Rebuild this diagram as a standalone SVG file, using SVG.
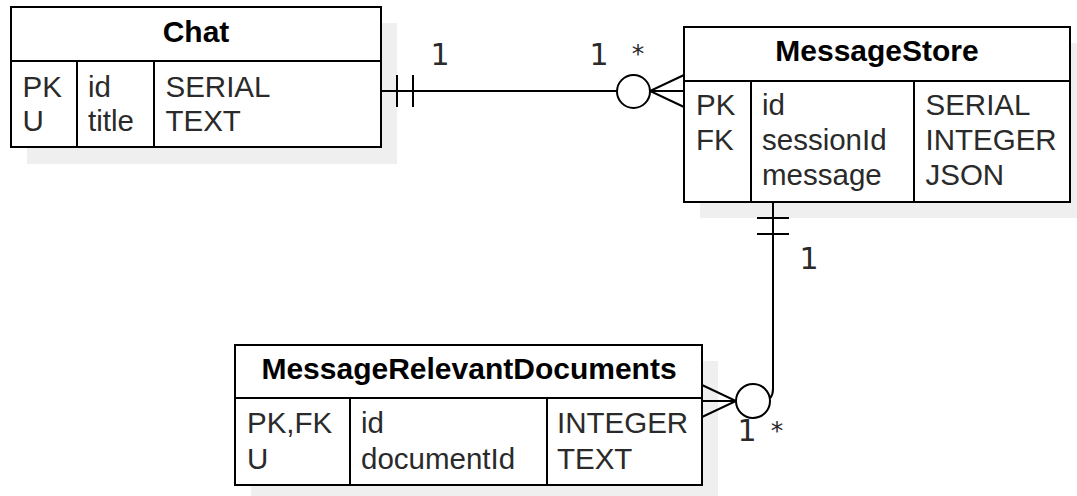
<svg xmlns="http://www.w3.org/2000/svg" width="1077" height="496" viewBox="0 0 1077 496">
<style>
.shadow{fill:#efefef;stroke:none}
.box{fill:#fff;stroke:#000;stroke-width:2}
.ln{fill:none;stroke:#000;stroke-width:2}
.hdr{font-family:"Liberation Sans",Arial,sans-serif;font-size:30px;font-weight:bold;fill:#000;text-anchor:middle}
.row{font-family:"Liberation Sans",Arial,sans-serif;font-size:29.5px;fill:#2a2a2a}
.lbl{font-family:"DejaVu Sans",sans-serif;font-size:30px;fill:#2a2a2a;text-anchor:middle}
.ast{font-family:"DejaVu Sans",sans-serif;font-size:25px;fill:#2a2a2a;text-anchor:middle}
.circ{fill:#fff;stroke:#000;stroke-width:2}
</style>
<rect width="1077" height="496" fill="#fff"/>
<g id="node-chat">
<rect class="shadow" x="27" y="23" width="370" height="141"/>
<rect class="box" x="11" y="7" width="370" height="140"/>
<path class="ln" d="M11,61 H381 M77,61 V147 M154,61 V147"/>
<text class="hdr" x="196" y="42">Chat</text>
<text class="row" x="22.5" y="97">PK</text>
<text class="row" x="22.5" y="131">U</text>
<text class="row" x="88" y="97">id</text>
<text class="row" x="88" y="131">title</text>
<text class="row" x="165.5" y="97">SERIAL</text>
<text class="row" x="165.5" y="131">TEXT</text>
</g>
<g id="node-messagestore">
<rect class="shadow" x="700" y="43" width="386" height="175"/>
<rect class="box" x="684" y="27" width="386" height="175"/>
<path class="ln" d="M684,81 H1070 M751,81 V202 M914,81 V202"/>
<text class="hdr" x="877" y="61">MessageStore</text>
<text class="row" x="696" y="115">PK</text>
<text class="row" x="696" y="150">FK</text>
<text class="row" x="762" y="115">id</text>
<text class="row" x="762" y="150">sessionId</text>
<text class="row" x="762" y="185">message</text>
<text class="row" x="925.5" y="115">SERIAL</text>
<text class="row" x="925.5" y="150">INTEGER</text>
<text class="row" x="925.5" y="185">JSON</text>
</g>
<g id="node-messagerelevantdocuments">
<rect class="shadow" x="251" y="361" width="467" height="140"/>
<rect class="box" x="235" y="345" width="467" height="140"/>
<path class="ln" d="M235,398 H702 M350,398 V485 M547,398 V485"/>
<text class="hdr" x="469" y="379">MessageRelevantDocuments</text>
<text class="row" x="247" y="433">PK,FK</text>
<text class="row" x="247" y="469">U</text>
<text class="row" x="361" y="433">id</text>
<text class="row" x="361" y="469">documentId</text>
<text class="row" x="557" y="433">INTEGER</text>
<text class="row" x="557" y="469">TEXT</text>
</g>
<g id="connectors">
<g id="edge-chat-messagestore">
<path class="ln" d="M381,91 H684"/>
<path class="ln" d="M397,75 V107 M413,75 V107"/>
<path class="ln" d="M684,75 L650,91 L684,107"/>
<circle class="circ" cx="633.5" cy="91.5" r="16.5"/>
<text class="lbl" x="440" y="65">1</text>
<text class="lbl" x="599" y="65">1</text>
<text class="ast" x="638" y="62">*</text>
</g>
<g id="edge-messagestore-mrd">
<path class="ln" d="M773,202 V389 Q773,401 761,401 H702"/>
<path class="ln" d="M757,218 H789 M757,234 H789"/>
<path class="ln" d="M702,385 L736,401 L702,417"/>
<circle class="circ" cx="753" cy="401" r="17"/>
<text class="lbl" x="809" y="269">1</text>
<text class="lbl" x="747" y="441">1</text>
<text class="ast" x="777" y="439">*</text>
</g>
</g>
</svg>
